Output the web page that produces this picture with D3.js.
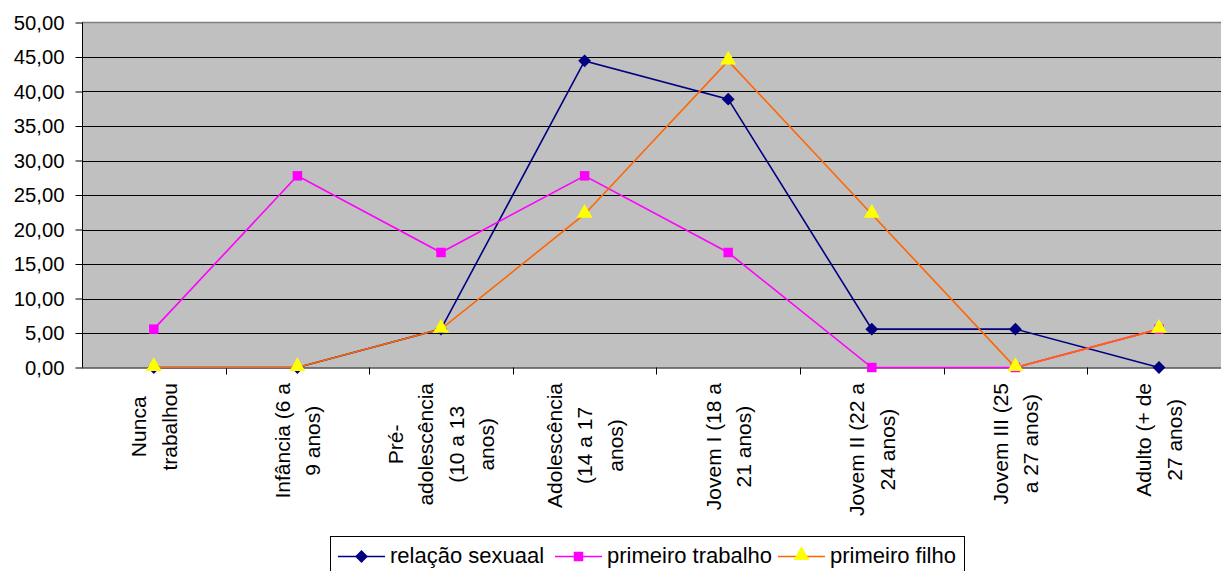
<!DOCTYPE html>
<html><head><meta charset="utf-8">
<script src="https://cdn.jsdelivr.net/npm/d3@7"></script>
<style>
html,body{margin:0;padding:0;background:#fff;overflow:hidden}
text{font-family:"Liberation Sans",Arial,sans-serif;fill:#000}
</style></head>
<body><svg id="c" width="1221" height="571"></svg>
<script>
const categories = [
  ["Nunca","trabalhou"],
  ["Infância (6 a","9 anos)"],
  ["Pré-","adolescência","(10 a 13","anos)"],
  ["Adolescência","(14 a 17","anos)"],
  ["Jovem I (18 a","21 anos)"],
  ["Jovem II (22 a","24 anos)"],
  ["Jovem III (25","a 27 anos)"],
  ["Adulto (+ de","27 anos)"]
];
const seriesNames = ["relação sexuaal","primeiro trabalho","primeiro filho"];
const relacaoSexual = [0, 0, 5.56, 44.44, 38.89, 5.56, 5.56, 0];
const primeiroTrabalho = [5.56, 27.78, 16.67, 27.78, 16.67, 0, 0, 5.56];
const primeiroFilho = [0, 0, 5.56, 22.22, 44.44, 22.22, 0, 5.56];
const yTicks = [0,5,10,15,20,25,30,35,40,45,50];

(function(){
const svg = d3.select("#c");
const pLeft = 82, pTop = 22.5, pBottom = 367.5, band = 143.6;
const catIdx = categories.map((d,i)=>i);
const x = d3.scaleBand().domain(catIdx).range([pLeft, pLeft + band*categories.length]).paddingInner(0).paddingOuter(0);
const y = d3.scaleLinear().domain([0,50]).range([pBottom, pTop]);
const cx = i => x(i) + x.bandwidth()/2;

svg.append("rect").attr("x", pLeft).attr("y", pTop).attr("width", 1221-pLeft).attr("height", pBottom-pTop).attr("fill", "#C0C0C0");
svg.append("line").attr("x1", pLeft).attr("x2", 1221).attr("y1", pTop).attr("y2", pTop).attr("stroke", "#808080").attr("stroke-width", 1.5);

svg.append("g").selectAll("line").data(yTicks.filter(t=>t>0 && t<50)).join("line")
  .attr("x1", pLeft).attr("x2", 1221).attr("y1", d=>Math.round(y(d))+0.5).attr("y2", d=>Math.round(y(d))+0.5)
  .attr("stroke", "#000").attr("stroke-width", 1);

const yAxis = d3.axisLeft(y).tickValues(yTicks).tickSize(7).tickPadding(11)
  .tickFormat(d => d3.format(".2f")(d).replace(".", ","));
const gy = svg.append("g").attr("transform", `translate(${pLeft+0.5},0)`).call(yAxis);
gy.select(".domain").attr("stroke", "#000").attr("d", `M0,${pTop}V${pBottom}`);
gy.selectAll(".tick line").attr("stroke", "#000");
gy.selectAll(".tick text").attr("font-size", 20.3).attr("font-family", '"Liberation Sans",Arial,sans-serif').attr("fill", "#000");

svg.append("line").attr("x1", pLeft).attr("x2", 1221).attr("y1", pBottom+0.5).attr("y2", pBottom+0.5).attr("stroke", "#000");
svg.append("g").selectAll("line").data(catIdx.slice(1)).join("line")
  .attr("x1", d=>Math.round(x(d))+0.5).attr("x2", d=>Math.round(x(d))+0.5)
  .attr("y1", pBottom).attr("y2", pBottom+7).attr("stroke", "#000");

const lineH = 30.5, fs = 21;
categories.forEach((lines, i) => {
  const g = svg.append("g");
  const texts = lines.map((l, j) => g.append("text").attr("font-size", fs).attr("text-anchor", "middle").text(l));
  const maxLen = d3.max(texts, t => t.node().getComputedTextLength());
  const centerY = 383 + maxLen/2;
  const n = lines.length;
  texts.forEach((t, j) => {
    const colX = cx(i) + (j - (n-1)/2) * lineH + fs*0.36;
    t.attr("transform", `translate(${colX},${centerY}) rotate(-90)`);
  });
});

const series = [
  {name: seriesNames[0], values: relacaoSexual, color: "#000080", marker: "diamond", fill: "#000080"},
  {name: seriesNames[1], values: primeiroTrabalho, color: "#FF00FF", marker: "square", fill: "#FF00FF"},
  {name: seriesNames[2], values: primeiroFilho, color: "#FF6600", marker: "triangle", fill: "#FFFF00"}
];
const symbolFor = m => m === "diamond" ? d3.symbol().type(d3.symbolDiamond2).size(105)
  : m === "square" ? d3.symbol().type(d3.symbolSquare).size(90)
  : d3.symbol().type(d3.symbolTriangle).size(110);
const line = d3.line().x((d,i)=>cx(i)).y(d=>y(d));
series.forEach(s => {
  svg.append("path").datum(s.values).attr("d", line).attr("fill", "none").attr("stroke", s.color).attr("stroke-width", 1.6);
  svg.append("g").selectAll("path").data(s.values).join("path")
    .attr("d", symbolFor(s.marker))
    .attr("transform", (d,i)=>`translate(${cx(i)},${y(d) + (s.marker==="triangle"?-1:0)})`)
    .attr("fill", s.fill);
});

const lg = svg.append("g");
lg.append("rect").attr("x", 330.5).attr("y", 536.5).attr("width", 634).attr("height", 40).attr("fill", "#fff").attr("stroke", "#000");
const legendX = [338, 555, 778];
series.forEach((s, k) => {
  const lx = legendX[k];
  lg.append("line").attr("x1", lx).attr("x2", lx+47).attr("y1", 556.5).attr("y2", 556.5).attr("stroke", s.color).attr("stroke-width", 1.6);
  lg.append("path").attr("d", symbolFor(s.marker)).attr("transform", `translate(${lx+23.5},${556.5 + (s.marker==="triangle"?-1:0)})`).attr("fill", s.fill);
  lg.append("text").attr("x", lx+52).attr("y", 562.5).attr("font-size", 22).text(s.name);
});
})();
</script></body></html>
